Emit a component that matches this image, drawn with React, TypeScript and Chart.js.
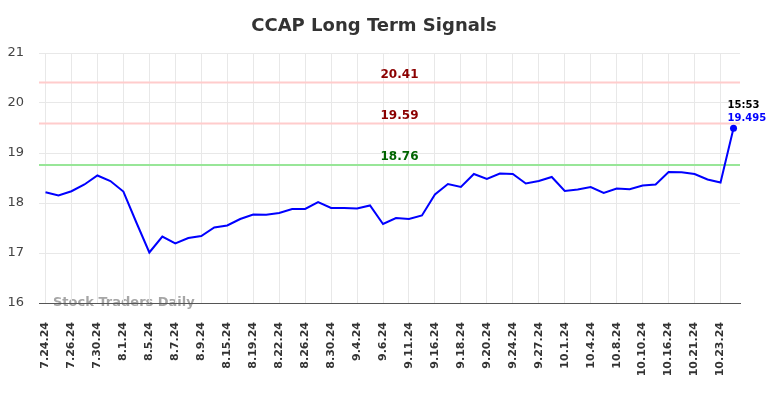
import React, { useEffect, useRef } from "react";
import { Chart, registerables } from "chart.js";

Chart.register(...registerables);

const titleText = "CCAP Long Term Signals";
const watermarkText = "Stock Traders Daily";
const lastTimeLabel = "15:53";

const dateLabels = [
  "7.24.24", "7.25.24", "7.26.24", "7.29.24", "7.30.24", "7.31.24", "8.1.24", "8.2.24",
  "8.5.24", "8.6.24", "8.7.24", "8.8.24", "8.9.24", "8.12.24", "8.15.24", "8.16.24",
  "8.19.24", "8.21.24", "8.22.24", "8.23.24", "8.26.24", "8.28.24", "8.30.24", "9.3.24",
  "9.4.24", "9.5.24", "9.6.24", "9.9.24", "9.11.24", "9.13.24", "9.16.24", "9.17.24",
  "9.18.24", "9.19.24", "9.20.24", "9.23.24", "9.24.24", "9.26.24", "9.27.24", "9.30.24",
  "10.1.24", "10.3.24", "10.4.24", "10.7.24", "10.8.24", "10.9.24", "10.10.24", "10.14.24",
  "10.16.24", "10.18.24", "10.21.24", "10.22.24", "10.23.24", "10.24.24",
];

const prices = [
  18.215, 18.15, 18.235, 18.37, 18.55, 18.44, 18.23, 17.61, 17.01, 17.33,
  17.19, 17.3, 17.34, 17.51, 17.55, 17.68, 17.77, 17.765, 17.8, 17.88,
  17.88, 18.02, 17.9, 17.9, 17.89, 17.95, 17.58, 17.7, 17.68, 17.75,
  18.17, 18.38, 18.32, 18.58, 18.48, 18.59, 18.58, 18.39, 18.44, 18.52,
  18.24, 18.27, 18.32, 18.2, 18.29, 18.275, 18.35, 18.37, 18.62, 18.615,
  18.58, 18.47, 18.41, 19.495,
];

const signalLevels = [20.41, 19.59, 18.76];
const signalKinds = ["resistance", "resistance", "support"];

const yTicks = [16, 17, 18, 19, 20, 21];

export default function App() {
  const canvasRef = useRef<HTMLCanvasElement | null>(null);

  useEffect(() => {
    const canvas = canvasRef.current;
    if (!canvas) return;

    const overlay = {
      id: "overlay",
      beforeDraw(chart: any) {
        const ctx = chart.ctx;
        const area = chart.chartArea;
        ctx.save();
        ctx.fillStyle = "#ffffff";
        ctx.fillRect(0, 0, chart.width, chart.height);
        ctx.font = "bold 18px 'DejaVu Sans'";
        ctx.fillStyle = "#333333";
        ctx.textAlign = "center";
        ctx.textBaseline = "middle";
        ctx.fillText(titleText, 374, 26);
        ctx.font = "bold 13px 'DejaVu Sans'";
        ctx.fillStyle = "#a6a6a6";
        ctx.textAlign = "left";
        ctx.fillText(watermarkText, area.left + 14, area.bottom);
        ctx.restore();
      },
      beforeDatasetsDraw(chart: any) {
        const ctx = chart.ctx;
        const area = chart.chartArea;
        const y = chart.scales.y;
        ctx.save();
        signalLevels.forEach((lvl, i) => {
          const py = y.getPixelForValue(lvl);
          const support = signalKinds[i] === "support";
          ctx.strokeStyle = support ? "#98e698" : "#ffcccc";
          ctx.lineWidth = 2;
          ctx.beginPath();
          ctx.moveTo(area.left, py);
          ctx.lineTo(area.right, py);
          ctx.stroke();
          ctx.font = "bold 12px 'DejaVu Sans'";
          ctx.fillStyle = support ? "#006400" : "#8b0000";
          ctx.textAlign = "center";
          ctx.textBaseline = "middle";
          ctx.fillText(lvl.toFixed(2), (area.left + area.right) / 2 + 10, py - 8);
        });
        ctx.restore();
      },
      afterDatasetsDraw(chart: any) {
        const ctx = chart.ctx;
        const meta = chart.getDatasetMeta(0);
        const last = meta.data[meta.data.length - 1];
        const lastVal = prices[prices.length - 1];
        ctx.save();
        ctx.font = "bold 10px 'DejaVu Sans'";
        ctx.textAlign = "left";
        ctx.textBaseline = "middle";
        ctx.fillStyle = "#000000";
        ctx.fillText(lastTimeLabel, last.x - 6, last.y - 23);
        ctx.fillStyle = "#0000ff";
        ctx.fillText(String(lastVal), last.x - 6, last.y - 10);
        ctx.restore();
      },
    };

    const chart = new Chart(canvas, {
      type: "line",
      data: {
        labels: dateLabels,
        datasets: [
          {
            data: prices,
            borderColor: "#0000ff",
            backgroundColor: "#0000ff",
            borderWidth: 2,
            tension: 0,
            pointRadius: prices.map((_, i) => (i === prices.length - 1 ? 3.5 : 0)),
            pointBorderWidth: 0,
            pointHoverRadius: 0,
            pointBackgroundColor: "#0000ff",
            pointBorderColor: "#0000ff",
          },
        ],
      },
      options: {
        responsive: false,
        animation: false,
        events: [],
        layout: { padding: { top: 53, right: 44, left: 0, bottom: 0 } },
        plugins: {
          legend: { display: false },
          title: { display: false },
          tooltip: { enabled: false },
        },
        scales: {
          x: {
            offset: true,
            afterFit(scale: any) {
              scale.height = 95;
            },
            grid: {
              display: true,
              color: "#e8e8e8",
              drawTicks: false,
              offset: false,
            },
            border: { display: true, color: "#555555", width: 1 },
            ticks: {
              autoSkip: false,
              minRotation: 90,
              maxRotation: 90,
              padding: 19,
              color: "#333333",
              font: { family: "'DejaVu Sans'", size: 11, weight: "bold" },
              callback: (_v: any, i: number) => (i % 2 === 0 ? dateLabels[i] : null),
            },
          },
          y: {
            min: yTicks[0],
            max: yTicks[yTicks.length - 1],
            afterFit(scale: any) {
              scale.width = 39;
            },
            afterBuildTicks(scale: any) {
              scale.ticks = yTicks.map((v) => ({ value: v }));
            },
            grid: { color: "#e8e8e8", drawTicks: false },
            border: { display: false },
            ticks: {
              padding: 15,
              color: "#444444",
              font: { family: "'DejaVu Sans'", size: 13 },
            },
          },
        },
      },
      plugins: [overlay],
    });

    return () => chart.destroy();
  }, []);

  return (
    <div style={{ position: "fixed", left: 0, top: 0, width: 784, height: 398, background: "#fff" }}>
      <canvas ref={canvasRef} width={784} height={398} style={{ display: "block" }} />
    </div>
  );
}
